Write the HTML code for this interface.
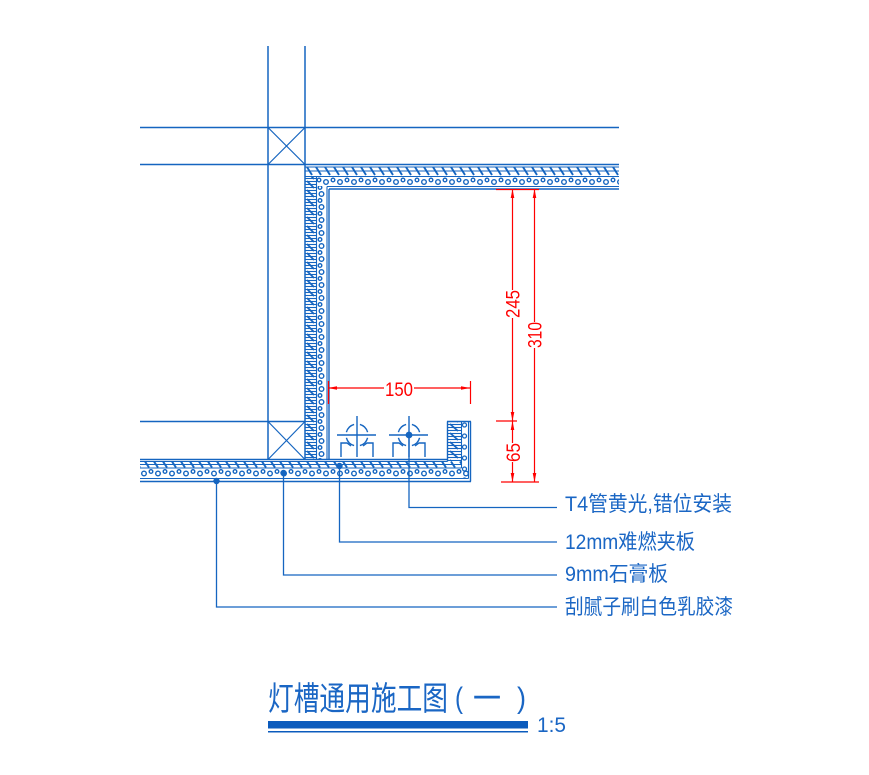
<!DOCTYPE html>
<html><head><meta charset="utf-8"><style>
html,body{margin:0;padding:0;background:#fff;}
svg{display:block;}
text{font-family:"Liberation Sans","Noto Sans CJK SC",sans-serif;}
</style></head><body>
<svg width="869" height="775" viewBox="0 0 869 775" xmlns="http://www.w3.org/2000/svg">
<defs>
  <pattern id="tH" patternUnits="userSpaceOnUse" x="0" y="166" width="9" height="10">
    <line x1="1" y1="1" x2="6" y2="9" stroke="#1565c0" stroke-width="1.9"/>
    <line x1="0" y1="5" x2="9" y2="5" stroke="#1565c0" stroke-width="1"/>
  </pattern>
  <pattern id="dH" patternUnits="userSpaceOnUse" x="0" y="176.5" width="14" height="10">
    <circle cx="4" cy="5.5" r="2.3" fill="none" stroke="#1565c0" stroke-width="1.4"/>
    <circle cx="11" cy="3.5" r="1.8" fill="none" stroke="#1565c0" stroke-width="1.4"/>
  </pattern>
  <pattern id="tV" patternUnits="userSpaceOnUse" x="305" y="0" width="11" height="9">
    <line x1="0" y1="1.5" x2="11" y2="1.5" stroke="#1565c0" stroke-width="1.1"/>
    <line x1="0" y1="4.5" x2="11" y2="4.5" stroke="#1565c0" stroke-width="1.1"/>
    <line x1="0" y1="7.5" x2="11" y2="7.5" stroke="#1565c0" stroke-width="1.1"/>
    <line x1="2" y1="1" x2="9" y2="8" stroke="#1565c0" stroke-width="1.8"/>
  </pattern>
  <pattern id="dV" patternUnits="userSpaceOnUse" x="316" y="177" width="11" height="13">
    <circle cx="5.5" cy="4" r="2.3" fill="none" stroke="#1565c0" stroke-width="1.4"/>
    <circle cx="4" cy="10.5" r="1.8" fill="none" stroke="#1565c0" stroke-width="1.4"/>
  </pattern>
  <pattern id="tB" patternUnits="userSpaceOnUse" x="0" y="461" width="9" height="7">
    <line x1="1" y1="0.5" x2="5" y2="6.5" stroke="#1565c0" stroke-width="1.9"/>
    <line x1="0" y1="3.5" x2="9" y2="3.5" stroke="#1565c0" stroke-width="1"/>
  </pattern>
  <pattern id="dB" patternUnits="userSpaceOnUse" x="0" y="468" width="14" height="10">
    <circle cx="4" cy="5.5" r="2.3" fill="none" stroke="#1565c0" stroke-width="1.4"/>
    <circle cx="11" cy="3.5" r="1.8" fill="none" stroke="#1565c0" stroke-width="1.4"/>
  </pattern>
  <pattern id="tV2" patternUnits="userSpaceOnUse" x="447" y="0" width="14" height="9">
    <line x1="0" y1="1.5" x2="14" y2="1.5" stroke="#1565c0" stroke-width="1.1"/>
    <line x1="0" y1="4.5" x2="14" y2="4.5" stroke="#1565c0" stroke-width="1.1"/>
    <line x1="0" y1="7.5" x2="14" y2="7.5" stroke="#1565c0" stroke-width="1.1"/>
    <line x1="3" y1="1" x2="11" y2="8" stroke="#1565c0" stroke-width="1.8"/>
  </pattern>
  <pattern id="dV2" patternUnits="userSpaceOnUse" x="461" y="421" width="7" height="11">
    <circle cx="3.5" cy="4" r="2" fill="none" stroke="#1565c0" stroke-width="1.3"/>
  </pattern>
</defs>

<g stroke="#1565c0" stroke-width="1.5" fill="none">
  <line x1="268" y1="46" x2="268" y2="460"/>
  <line x1="305" y1="46" x2="305" y2="460"/>
  <line x1="140" y1="127.5" x2="619" y2="127.5"/>
  <line x1="140" y1="164.5" x2="619" y2="164.5"/>
  <line x1="140" y1="421.5" x2="305" y2="421.5"/>
  <line x1="268" y1="127.5" x2="305" y2="164.5" stroke-width="1.2"/>
  <line x1="305" y1="127.5" x2="268" y2="164.5" stroke-width="1.2"/>
  <line x1="268" y1="421.5" x2="305" y2="459.5" stroke-width="1.2"/>
  <line x1="305" y1="421.5" x2="268" y2="459.5" stroke-width="1.2"/>
</g>

<rect x="305" y="166" width="314" height="10" fill="url(#tH)"/>
<rect x="316" y="176.5" width="303" height="10" fill="url(#dH)"/>
<rect x="305" y="176" width="11" height="283" fill="url(#tV)"/>
<rect x="316" y="186" width="11" height="273" fill="url(#dV)"/>
<rect x="140" y="461" width="322" height="7" fill="url(#tB)"/>
<rect x="140" y="468" width="328" height="10" fill="url(#dB)"/>
<rect x="447" y="422" width="14" height="39" fill="url(#tV2)"/>
<rect x="461" y="422" width="7" height="56" fill="url(#dV2)"/>

<g stroke="#1565c0" stroke-width="1.4" fill="none">
  <line x1="305" y1="167" x2="619" y2="167" stroke-width="1.1"/>
  <line x1="305" y1="176.5" x2="619" y2="176.5" stroke-width="1.1"/>
  <line x1="327" y1="186.5" x2="619" y2="186.5" stroke-width="1.1"/>
  <line x1="329" y1="189" x2="619" y2="189"/>
  <line x1="316.5" y1="176.5" x2="316.5" y2="459.5" stroke-width="1.1"/>
  <line x1="327" y1="186.5" x2="327" y2="459.5" stroke-width="1.1"/>
  <line x1="329" y1="189" x2="329" y2="459.5"/>
  <line x1="140" y1="459.5" x2="447.5" y2="459.5"/>
  <line x1="140" y1="461.5" x2="447.5" y2="461.5" stroke-width="1.1"/>
  <line x1="140" y1="468" x2="461.5" y2="468" stroke-width="1.1"/>
  <line x1="140" y1="478.5" x2="468.5" y2="478.5" stroke-width="1.1"/>
  <line x1="140" y1="481.5" x2="471" y2="481.5"/>
  <line x1="447" y1="421.5" x2="471" y2="421.5"/>
  <line x1="447.5" y1="421.5" x2="447.5" y2="461.5"/>
  <line x1="461.5" y1="421.5" x2="461.5" y2="468" stroke-width="1.1"/>
  <line x1="468.5" y1="421.5" x2="468.5" y2="478.5" stroke-width="1.1"/>
  <line x1="470.5" y1="421.5" x2="470.5" y2="481.5"/>
</g>

<!-- lamps -->
<g stroke="#1565c0" stroke-width="1.4" fill="none">
  <path d="M367.6,432.2 A11,11 0 0 0 359.9,424.4 M354.1,424.4 A11,11 0 0 0 346.4,432.2 M346.4,437.8 A11,11 0 0 0 354.1,445.6 M359.9,445.6 A11,11 0 0 0 367.6,437.8"/>
  <line x1="337" y1="435" x2="376" y2="435"/>
  <line x1="357" y1="416" x2="357" y2="457"/>
  <path d="M341,457 V443 H347 L351,446 M373,457 V443 H367 L363,446"/>
  <path d="M419.6,432.2 A11,11 0 0 0 411.9,424.4 M406.1,424.4 A11,11 0 0 0 398.4,432.2 M398.4,437.8 A11,11 0 0 0 406.1,445.6 M411.9,445.6 A11,11 0 0 0 419.6,437.8"/>
  <line x1="389" y1="435" x2="428" y2="435"/>
  <line x1="409" y1="416" x2="409" y2="457"/>
  <path d="M393,457 V443 H399 L403,446 M425,457 V443 H419 L415,446"/>
</g>

<g stroke="#1565c0" stroke-width="1.3" fill="none">
  <polyline points="409,435 409,507.5 557,507.5"/>
  <polyline points="339.5,466 339.5,542 557,542"/>
  <polyline points="283.5,473 283.5,575 557,575"/>
  <polyline points="216.5,481 216.5,607 557,607"/>
</g>
<g fill="#1565c0">
  <circle cx="409" cy="435" r="3.4"/>
  <circle cx="339.5" cy="466" r="3.2"/>
  <circle cx="283.5" cy="473" r="3.2"/>
  <circle cx="216.5" cy="481" r="3.2"/>
</g>

<g fill="#1a66c4" font-size="21">
  <text x="565" y="511" textLength="167" lengthAdjust="spacingAndGlyphs">T4管黄光,错位安装</text>
  <text x="565" y="549" textLength="130" lengthAdjust="spacingAndGlyphs">12mm难燃夹板</text>
  <text x="565" y="581" textLength="103" lengthAdjust="spacingAndGlyphs">9mm石膏板</text>
  <text x="565" y="614" textLength="168" lengthAdjust="spacingAndGlyphs">刮腻子刷白色乳胶漆</text>
</g>

<g stroke="#ff0000" stroke-width="1.2" fill="none">
  <line x1="328" y1="388" x2="384" y2="388"/>
  <line x1="414" y1="388" x2="470" y2="388"/>
  <line x1="328.5" y1="381" x2="328.5" y2="404"/>
  <line x1="470.5" y1="381" x2="470.5" y2="404"/>
  <line x1="512.5" y1="189" x2="512.5" y2="290"/>
  <line x1="512.5" y1="318" x2="512.5" y2="443"/>
  <line x1="512.5" y1="462" x2="512.5" y2="482"/>
  <line x1="534.5" y1="189" x2="534.5" y2="322"/>
  <line x1="534.5" y1="348" x2="534.5" y2="482"/>
  <line x1="496" y1="189.5" x2="539" y2="189.5"/>
  <line x1="501" y1="482" x2="539" y2="482"/>
  <line x1="496" y1="421" x2="517" y2="421"/>
</g>
<g fill="#ff0000">
  <polygon points="328,388 337,386.2 337,389.8"/>
  <polygon points="470,388 461,386.2 461,389.8"/>
  <polygon points="512.5,189 510.7,198 514.3,198"/>
  <polygon points="512.5,421 510.7,412 514.3,412"/>
  <polygon points="512.5,421 510.7,430 514.3,430"/>
  <polygon points="512.5,482 510.7,473 514.3,473"/>
  <polygon points="534.5,189 532.7,198 536.3,198"/>
  <polygon points="534.5,482 532.7,473 536.3,473"/>
</g>
<g fill="#ff0000" font-size="19">
  <text x="399" y="396" text-anchor="middle" textLength="28" lengthAdjust="spacingAndGlyphs">150</text>
  <text transform="translate(512.5,304) rotate(-90)" x="0" y="6.8" text-anchor="middle" textLength="28" lengthAdjust="spacingAndGlyphs">245</text>
  <text transform="translate(534.5,335) rotate(-90)" x="0" y="6.8" text-anchor="middle" textLength="26" lengthAdjust="spacingAndGlyphs">310</text>
  <text transform="translate(513,452.5) rotate(-90)" x="0" y="6.8" text-anchor="middle" textLength="19" lengthAdjust="spacingAndGlyphs">65</text>
</g>

<g fill="#1a66c4">
  <text x="268" y="710" font-size="33" textLength="180" lengthAdjust="spacingAndGlyphs">灯槽通用施工图</text>
  <text x="455" y="708" font-size="30" textLength="8" lengthAdjust="spacingAndGlyphs">(</text>
  <text x="473" y="710" font-size="33" textLength="28" lengthAdjust="spacingAndGlyphs">一</text>
  <text x="517" y="708" font-size="30" textLength="9" lengthAdjust="spacingAndGlyphs">)</text>
  <text x="537" y="732" font-size="21" textLength="29" lengthAdjust="spacingAndGlyphs">1:5</text>
</g>
<rect x="268" y="721" width="260" height="7.5" fill="#0b5bbd"/>
<line x1="268" y1="731.8" x2="528" y2="731.8" stroke="#0b5bbd" stroke-width="1.5"/>
</svg>
</body></html>
